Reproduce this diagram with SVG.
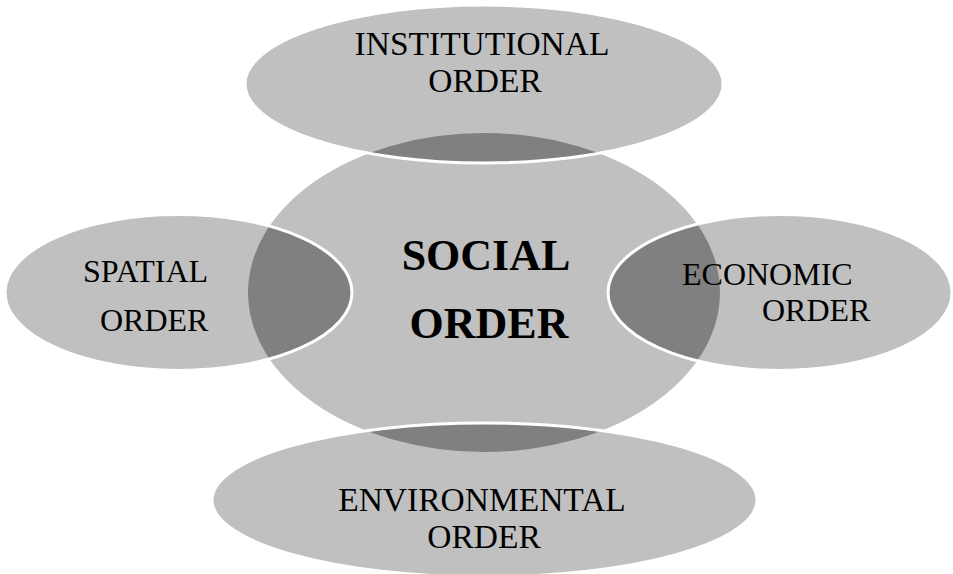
<svg xmlns="http://www.w3.org/2000/svg" xmlns:xlink="http://www.w3.org/1999/xlink" width="953" height="574" viewBox="0 0 953 574">
<style>
.fill{fill:#c0c0c0;stroke:none}
.dark{fill:#808080;stroke:none}
.rim{fill:none;stroke:#ffffff;stroke-width:3}
.lbl{font-family:"Liberation Serif","Times New Roman",serif;font-size:32px;fill:#000}
.lbl2{font-family:"Liberation Serif","Times New Roman",serif;font-size:33.5px;fill:#000}
.big{font-family:"Liberation Serif","Times New Roman",serif;font-size:44px;font-weight:bold;fill:#000}
</style>
<defs>
<ellipse id="core" cx="484" cy="292.5" rx="236" ry="159.5"/>
<clipPath id="cTop"><ellipse cx="484" cy="84" rx="239" ry="79"/></clipPath>
<clipPath id="cLeft"><ellipse cx="178.5" cy="292.5" rx="173.5" ry="78"/></clipPath>
<clipPath id="cRight"><ellipse cx="780" cy="292.5" rx="172" ry="78"/></clipPath>
<clipPath id="cBottom"><ellipse cx="484.5" cy="500" rx="272.5" ry="77"/></clipPath>
</defs>
<g id="connectors"></g>
<g id="social">
<use xlink:href="#core" class="fill"/>
<text class="big" x="486" y="270" text-anchor="middle">SOCIAL</text>
<text class="big" x="489" y="338" text-anchor="middle">ORDER</text>
</g>
<g id="institutional">
<ellipse class="fill" cx="484" cy="84" rx="239" ry="79"/>
<use xlink:href="#core" class="dark" clip-path="url(#cTop)"/>
<ellipse class="rim" cx="484" cy="84" rx="239" ry="79"/>
<text class="lbl2" x="482" y="55" text-anchor="middle">INSTITUTIONAL</text>
<text class="lbl2" x="485" y="92" text-anchor="middle">ORDER</text>
</g>
<g id="spatial">
<ellipse class="fill" cx="178.5" cy="292.5" rx="173.5" ry="78"/>
<use xlink:href="#core" class="dark" clip-path="url(#cLeft)"/>
<ellipse class="rim" cx="178.5" cy="292.5" rx="173.5" ry="78"/>
<text class="lbl" x="83" y="282">SPATIAL</text>
<text class="lbl" x="100" y="331">ORDER</text>
</g>
<g id="economic">
<ellipse class="fill" cx="780" cy="292.5" rx="172" ry="78"/>
<use xlink:href="#core" class="dark" clip-path="url(#cRight)"/>
<ellipse class="rim" cx="780" cy="292.5" rx="172" ry="78"/>
<text class="lbl" x="682" y="285">ECONOMIC</text>
<text class="lbl" x="762" y="321">ORDER</text>
</g>
<g id="environmental">
<ellipse class="fill" cx="484.5" cy="500" rx="272.5" ry="77"/>
<use xlink:href="#core" class="dark" clip-path="url(#cBottom)"/>
<ellipse class="rim" cx="484.5" cy="500" rx="272.5" ry="77"/>
<text class="lbl2" x="482" y="511" text-anchor="middle">ENVIRONMENTAL</text>
<text class="lbl2" x="484" y="548" text-anchor="middle">ORDER</text>
</g>
</svg>
